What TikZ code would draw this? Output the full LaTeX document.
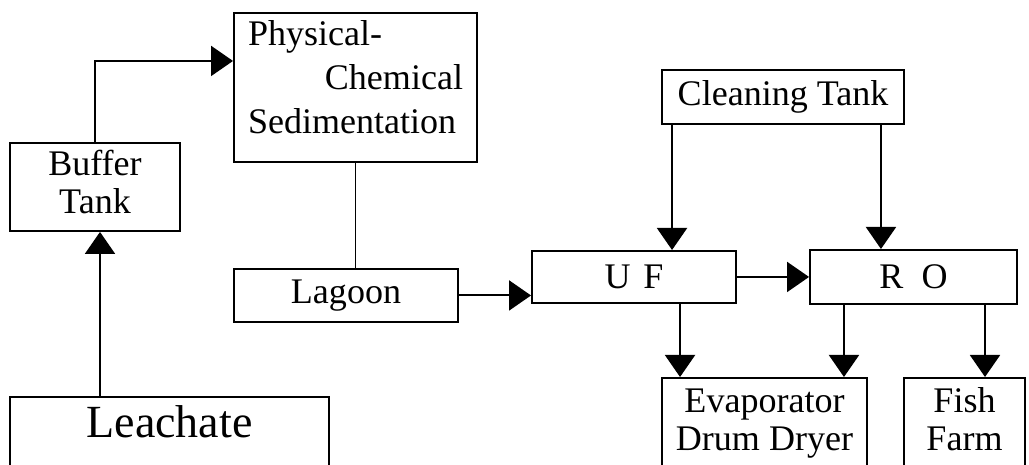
\documentclass[tikz,border=0pt]{standalone}
\usepackage{fontspec}
\setmainfont{Liberation Serif}
\usetikzlibrary{arrows.meta}

\begin{document}
\begin{tikzpicture}[
  box/.style={draw,line width=1.1pt,inner xsep=0pt,inner ysep=0pt,anchor=north,
    font=\fontsize{20.5}{21.6}\selectfont},
  flow/.style={line width=1.1pt,-{Triangle[length=0.44cm,width=0.6cm]}}]
\clip (0,0) rectangle (20.58,9.3);

% boxes
\node[box,text width=6.38cm,align=flush center,text height=0.82cm,text depth=1cm,
  font=\fontsize{26.2}{30}\selectfont] (leach) at (3.39,1.38) {Leachate};
\node[box,text width=3.4cm,align=flush center,text height=0.66cm,text depth=1.1cm]
  (buffer) at (1.9,6.46) {Buffer\\Tank};
\node[box,minimum width=4.86cm,text width=4.3cm,align=flush left,text height=0.66cm,
  text depth=2.32cm,font=\fontsize{20.5}{25}\selectfont]
  (phys) at (7.11,9.06) {Physical-\\\hspace*{\fill}Chemical\\Sedimentation};
\node[box,minimum width=4.48cm,minimum height=1.06cm] (lagoon) at (6.92,3.94) {Lagoon};
\node[box,minimum width=4.84cm,minimum height=1.08cm] (clean) at (15.66,7.92) {Cleaning Tank};
\node[box,minimum width=4.08cm,minimum height=1.04cm] (uf) at (12.68,4.3) {U\hspace{0.35em}F};
\node[box,minimum width=4.14cm,minimum height=1.08cm] (ro) at (18.27,4.32) {R\hspace{0.5em}O};
\node[box,text width=4.1cm,align=flush center,text height=0.7cm,text depth=1.4cm]
  (evap) at (15.29,1.76) {Evaporator\\Drum Dryer};
\node[box,text width=2.42cm,align=flush center,text height=0.7cm,text depth=1.4cm]
  (fish) at (19.29,1.76) {Fish\\Farm};

% flows
\draw[flow] ([xshift=1mm]buffer.south |- leach.north) -- ([xshift=1mm]buffer.south);
\draw[flow] (buffer.north) |- ([yshift=5.3mm]phys.west);
\draw[line width=1.1pt] (phys.south) -- (phys.south |- lagoon.north);
\draw[flow] (lagoon.east) -- (lagoon.east -| uf.west);
\draw[flow] (uf.east) -- (ro.west);
\draw[flow] ([xshift=2.2mm]clean.south west) -- ([xshift=2.2mm]clean.south west |- uf.north);
\draw[flow] ([xshift=-4.8mm]clean.south east) -- ([xshift=-4.8mm]clean.south east |- ro.north);
\draw[flow] ([xshift=3.8mm]evap.north west |- uf.south) -- ([xshift=3.8mm]evap.north west);
\draw[flow] ([xshift=-4.8mm]evap.north east |- ro.south) -- ([xshift=-4.8mm]evap.north east);
\draw[flow] ([xshift=4.1mm]fish.north |- ro.south) -- ([xshift=4.1mm]fish.north);
\end{tikzpicture}
\end{document}
